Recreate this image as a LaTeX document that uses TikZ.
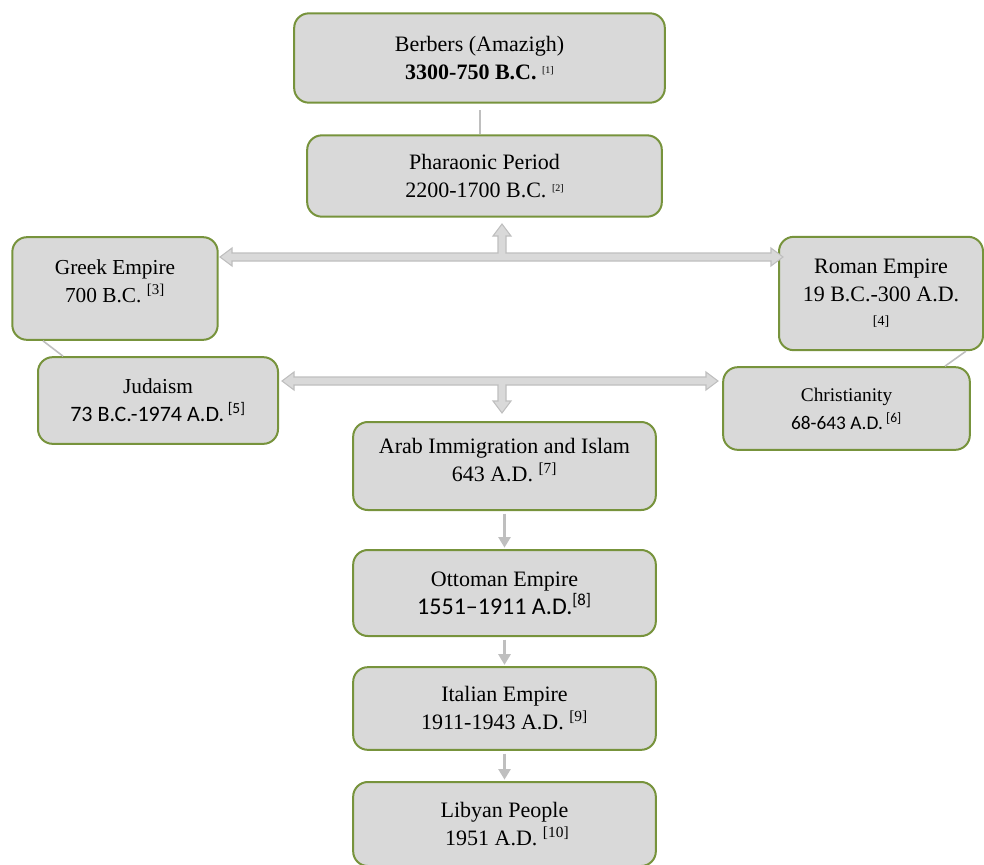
\documentclass[tikz,border=0pt]{standalone}
\usepackage{fontspec}
\setmainfont{Liberation Serif}
\newfontfamily\calibri{Carlito}
\usepackage{xcolor}
\usetikzlibrary{arrows.meta,calc}
\definecolor{boxfill}{HTML}{D9D9D9}
\definecolor{boxline}{HTML}{77933C}
\definecolor{linkgray}{HTML}{BFBFBF}
\newcommand{\sizeto}[1]{\fontsize{#1}{21}\selectfont}
\newcommand{\refno}[1]{\textsuperscript{[#1]}}
\newcommand{\tinyref}[1]{\raisebox{4.5pt}{\fontsize{7.5}{8}\selectfont[#1]}}

\begin{document}
\begin{tikzpicture}[
    x=0.75pt, y=-0.75pt,
    every node/.style={font=\sizeto{16.5}},
    era/.style={draw=boxline,fill=boxfill,line width=1.5pt,rounded corners=11pt,
                align=center,inner sep=0pt},
    mainera/.style={era,minimum width=227pt},
    link/.style={draw=linkgray,line width=1.2pt},
    flow/.style={draw=linkgray,line width=2pt,-{Triangle[length=8pt,width=9pt]}},
    blockarr/.style={draw=linkgray,fill=boxfill,line width=0.8pt},
  ]
  \useasboundingbox (0,0) rectangle (984,864);

  % top two periods
  \node[era,minimum width=278pt,minimum height=67pt] (berbers) at (479.5,58)
    {Berbers (Amazigh)\\ \textbf{3300-750 B.C.} \tinyref{1}};
  \node[era,minimum width=266pt,minimum height=61pt] (pharaonic) at (484.5,176)
    {Pharaonic Period\\ 2200-1700 B.C. \tinyref{2}};

  % side empires and religions
  \node[era,minimum width=154pt,minimum height=77pt,font=\sizeto{16}] (greek) at (115,288.5)
    {Greek Empire\\ 700 B.C. \refno{3}\\[-10pt]\mbox{}};
  \node[era,minimum width=153pt,minimum height=85pt] (roman) at (881,293.5)
    {Roman Empire\\ 19 B.C.-300 A.D.\\[-3pt] {\fontsize{10.5}{12}\selectfont [4]}};
  \node[era,minimum width=180pt,minimum height=65pt,font=\sizeto{16}] (judaism) at (158,400.5)
    {Judaism\\ {\calibri\sizeto{16.5}73 B.C.-1974 A.D.\,\refno{5}}};
  \node[era,minimum width=185pt,minimum height=62pt,font=\sizeto{14.5}] (christianity) at (846.5,408.5)
    {Christianity\\ {\calibri\sizeto{14.5}68-643 A.D.\,\refno{6}}};

  % main line
  \node[mainera,minimum height=66pt] (arab) at (504.5,466)
    {Arab Immigration and Islam\\ 643 A.D. \refno{7}\\[-12pt]\mbox{}};
  \node[mainera,minimum height=64.5pt] (ottoman) at (504.5,593)
    {Ottoman Empire\\ {\calibri\sizeto{18}1551–1911 A.D.\refno{8}}};
  \node[mainera,minimum height=62pt] (italian) at (504.5,708.5)
    {Italian Empire\\ 1911-1943 A.D. \refno{9}};
  \node[mainera,minimum height=63pt] (libyan) at (504.5,824)
    {Libyan People\\ \ 1951 A.D. \refno{10}};

  % plain links
  \draw[link] ([yshift=-5pt]berbers.south -| 480,0) -- (pharaonic.north -| 480,0);
  \draw[link] (greek.south -| 43,0) -- (judaism.north -| 63,0);
  \draw[link] (roman.south -| 966,0) -- (christianity.north -| 945,0);

  % block arrows
  \draw[blockarr] (220,257) -- (232,248) -- (232,253) -- (498,253) -- (498,236)
    -- (493,236) -- (502,224) -- (511,236) -- (506,236) -- (506,253) -- (771,253)
    -- (771,248) -- (783,257) -- (771,266) -- (771,261) -- (232,261) -- (232,266) -- cycle;
  \draw[blockarr] (282,381) -- (294,372) -- (294,377) -- (706,377) -- (706,372)
    -- (718,381) -- (706,390) -- (706,385) -- (506,385) -- (506,401) -- (511,401)
    -- (502,413) -- (493,401) -- (498,401) -- (498,385) -- (294,385) -- (294,390) -- cycle;

  % downward flow
  \draw[flow] ([yshift=-2pt]arab.south) -- ([yshift=1pt]ottoman.north);
  \draw[flow] ([yshift=-2pt]ottoman.south) -- ([yshift=1pt]italian.north);
  \draw[flow] ([yshift=-2pt]italian.south) -- ([yshift=1pt]libyan.north);
\end{tikzpicture}
\end{document}
